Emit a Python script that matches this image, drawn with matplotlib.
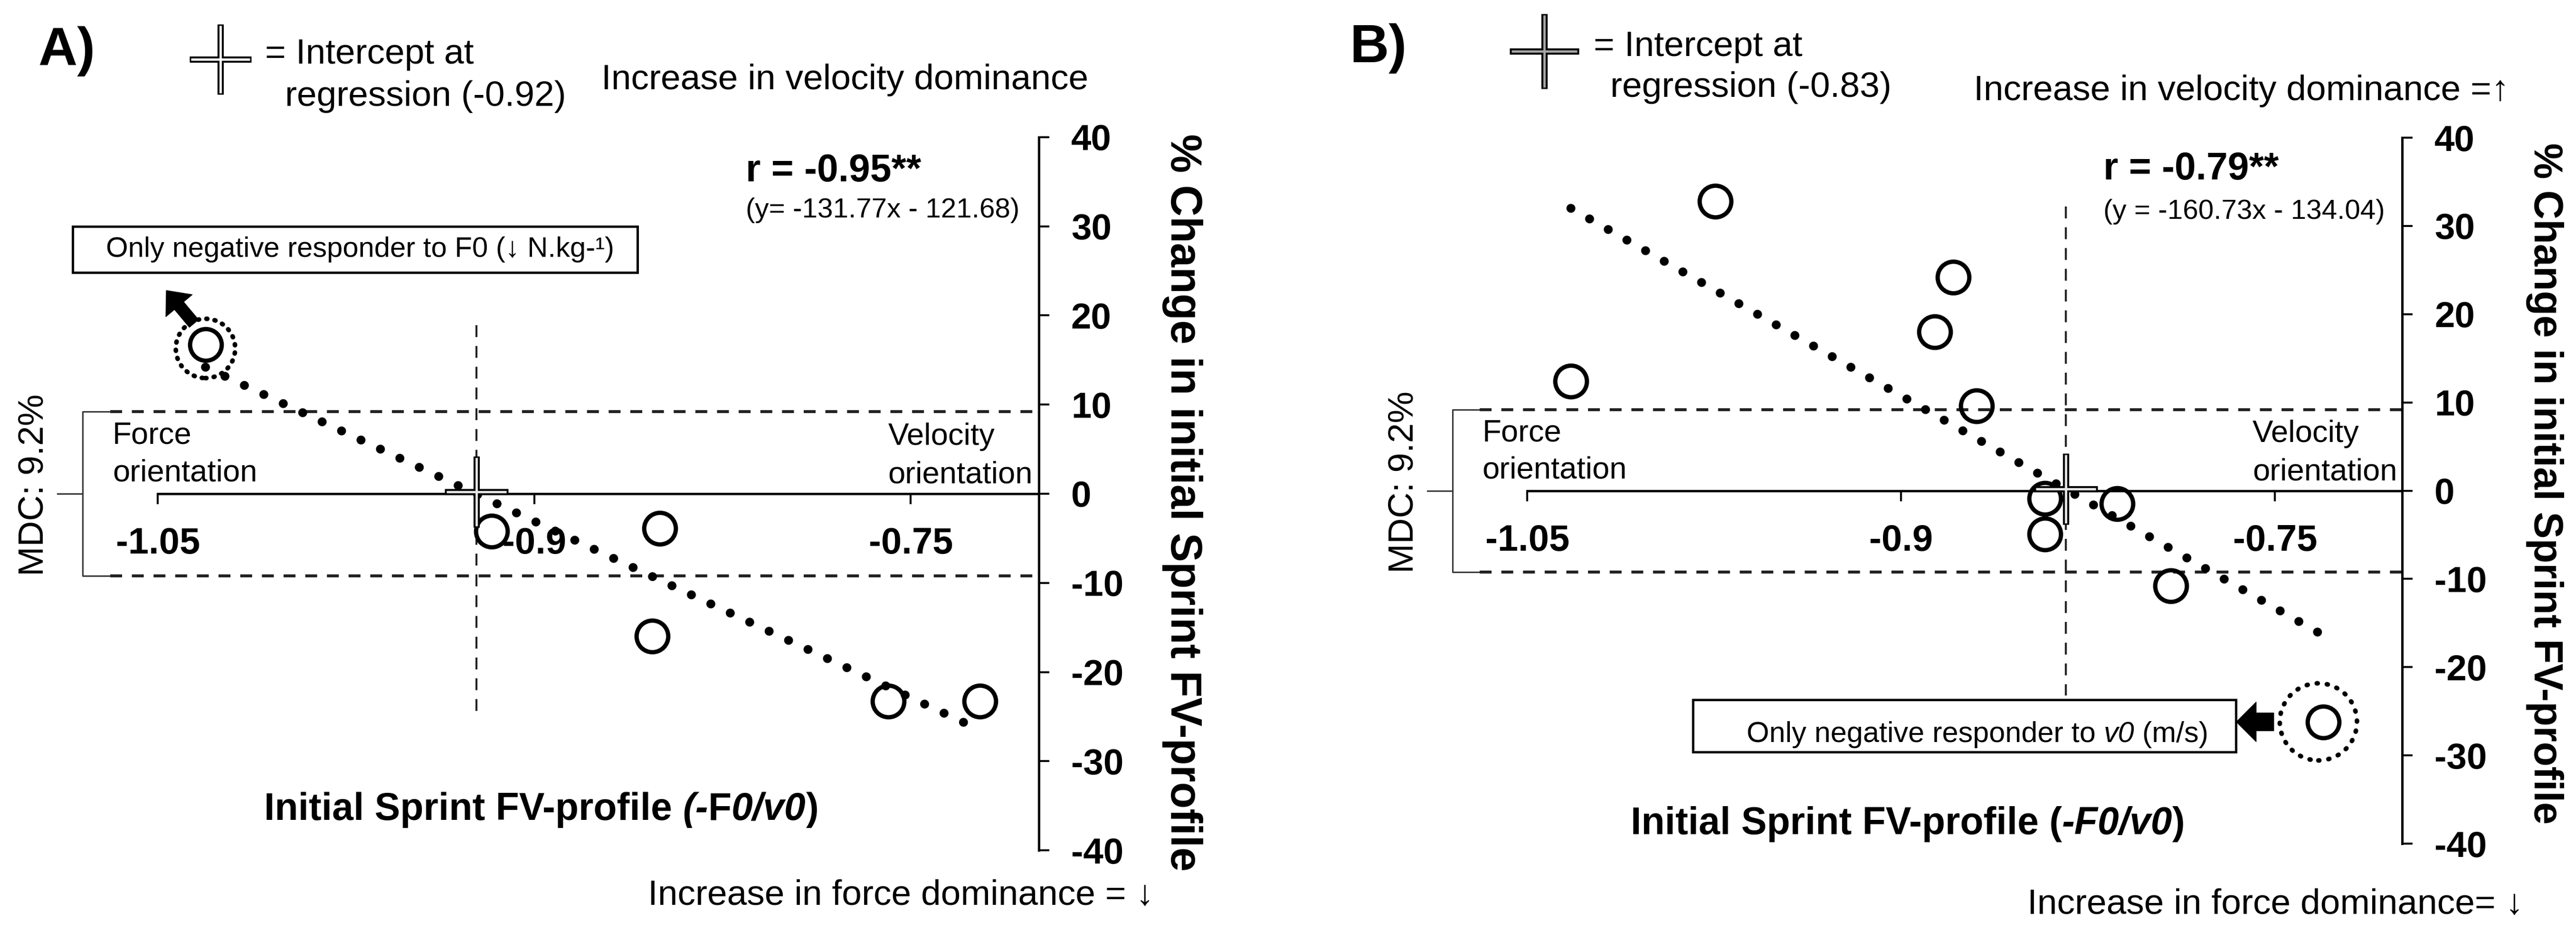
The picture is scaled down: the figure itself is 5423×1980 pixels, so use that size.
import matplotlib
matplotlib.use('Agg')
import matplotlib.pyplot as plt
from matplotlib.patches import Rectangle

plt.rcParams['font.family'] = ['Liberation Sans', 'DejaVu Sans']

# ---- data ----
# panel A
a_x = [-1.031, -0.917, -0.850, -0.853, -0.759, -0.7225]
a_y = [16.7, -4.2, -3.9, -16.0, -23.3, -23.3]
a_fit_x = [-1.031, -0.7225]
a_fit_y = [14.2, -26.5]
a_intercept = -0.923
a_r = 'r = -0.95**'
a_eq = '(y= -131.77x - 121.68)'
a_legend = ['= Intercept at', 'regression (-0.92)']

# panel B
b_x = [-1.0325, -0.9745, -0.8865, -0.879, -0.8697, -0.8423, -0.8423, -0.8133, -0.7918, -0.7306]
b_y = [12.4, 32.8, 18.0, 24.2, 9.6, -0.9, -4.9, -1.5, -10.8, -26.2]
b_fit_x = [-1.0325, -0.7306]
b_fit_y = [32.0, -16.4]
b_intercept = -0.834
b_r = 'r = -0.79**'
b_eq = '(y = -160.73x - 134.04)'
b_legend = ['= Intercept at', 'regression (-0.83)']

mdc = 9.2
xticks = [-1.05, -0.9, -0.75]
xticklabels = ['-1.05', '-0.9', '-0.75']
yticks = [-40, -30, -20, -10, 0, 10, 20, 30, 40]
yticklabels = ['-40', '-30', '-20', '-10', '0', '10', '20', '30', '40']

XMIN, XMAX = -1.10, -0.699


def rich_text(ax, x, y, pieces, **kw):
    ''' put text pieces with different styles one after another '''
    s, style = pieces[0]
    t = ax.text(x, y, s, va='baseline', **style, **kw)
    for s, style in pieces[1:]:
        t = ax.annotate(s, xy=(1, 0), xycoords=t, va='bottom', ha='left',
                        **style, **kw)
    return t


def cross(ax, x, y, w, h, inner, **kw):
    ''' the outlined plus sign used for the regression intercept '''
    ax.plot([x], [y], marker='_', ms=w, mew=9.5, color='black', ls='none', **kw)
    ax.plot([x], [y], marker='|', ms=h, mew=9.5, color='black', ls='none', **kw)
    ax.plot([x], [y], marker='_', ms=w - 5, mew=3.5, color=inner, ls='none', **kw)
    ax.plot([x], [y], marker='|', ms=h - 5, mew=3.5, color=inner, ls='none', **kw)


def panel(ax, x, y, fit_x, fit_y, icpt, vdash, r_txt, eq_txt, r_pos, ylab_size, ylab_y):
    ax.set_xlim(XMIN, XMAX)
    ax.set_ylim(-40, 40)

    for s in ['top', 'left']:
        ax.spines[s].set_visible(False)
    ax.spines['bottom'].set_position(('data', 0))
    ax.spines['bottom'].set_bounds(-1.05, XMAX)
    ax.spines['bottom'].set_linewidth(3.6)
    ax.spines['right'].set_linewidth(3.6)

    ax.yaxis.tick_right()
    ax.set_yticks(yticks)
    ax.set_yticklabels(yticklabels, fontweight='bold')
    ax.tick_params(axis='y', direction='out', length=16, width=3, pad=33, labelsize=55)
    ax.set_xticks(xticks)
    ax.set_xticklabels(xticklabels, fontweight='bold')
    ax.tick_params(axis='x', direction='out', length=16, width=3, pad=34, labelsize=56)

    # MDC band and bracket
    for yy in [mdc, -mdc]:
        ax.plot([-1.069, XMAX], [yy, yy], color='#222222', lw=4.5, ls=(0, (4, 3.3)))
    ax.plot([-1.069, -1.080, -1.080, -1.069], [mdc, mdc, -mdc, -mdc],
            color='#333333', lw=2.2)
    ax.plot([-1.090, -1.080], [0, 0], color='#333333', lw=2.2)
    ax.text(-1.0995, 1, 'MDC: 9.2%', rotation=90, ha='center', va='center', fontsize=54)

    # orientation labels
    ax.text(-1.068, 5.6, 'Force', fontsize=47, va='baseline')
    ax.text(-1.068, 1.4, 'orientation', fontsize=47, va='baseline')
    ax.text(-0.759, 5.5, 'Velocity', fontsize=47, va='baseline')
    ax.text(-0.759, 1.2, 'orientation', fontsize=47, va='baseline')

    # vertical line through the intercept
    ax.plot([icpt, icpt], vdash, color='#222222', lw=3, ls=(0, (6, 4.5)))

    # regression line and data
    ax.plot(fit_x, fit_y, color='black', lw=13.5, ls=(0, (0.01, 2.4)),
            dash_capstyle='round', zorder=3)
    ax.plot(x, y, 'o', ms=48, mfc='none', mec='black', mew=6.5, ls='none', zorder=4)
    cross(ax, icpt, 0.2, 96, 108, '#e6e6e6', zorder=5)

    ax.text(r_pos[0], r_pos[1], r_txt, fontsize=58, fontweight='bold', va='baseline')
    ax.text(r_pos[0], r_pos[2], eq_txt, fontsize=42, va='baseline')

    ax.text(1.1425, ylab_y, '% Change in initial Sprint FV-profile', transform=ax.transAxes,
            rotation=-90, ha='center', va='center', fontsize=ylab_size, fontweight='bold')


fig = plt.figure(figsize=(54.23, 19.80), dpi=100)
axA = fig.add_axes([0.01254, 0.09545, 0.3907, 0.7586])
axB = fig.add_axes([0.5445, 0.1025, 0.3880, 0.7510])

# ---------------- panel A ----------------
panel(axA, a_x, a_y, a_fit_x, a_fit_y, a_intercept, [18.9, -24.9],
      a_r, a_eq, (-0.8157, 35.05, 31.0), 66, 0.488)

axA.scatter([a_x[0]], [a_y[0] - 0.4], s=90**2, facecolors='none', edgecolors='black',
            linewidths=7, linestyles=(0, (0.2, 1.6)), capstyle='round', zorder=4)
axA.annotate('', xy=(a_x[0] - 0.0156, a_y[0] + 6.1), xytext=(a_x[0] - 0.0046, a_y[0] + 2.4),
             arrowprops=dict(arrowstyle='simple,head_length=30,head_width=52,tail_width=18',
                             mutation_scale=1, fc='black', ec='black', shrinkA=0, shrinkB=0))
axA.add_patch(Rectangle((-1.0839, 24.8), 0.225, 5.2, fc='white', ec='black', lw=3.6, zorder=2))
axA.text(-1.0707, 27.4, 'Only negative responder to F0 (\u2193 N.kg-\u00b9)', fontsize=43,
         va='center', zorder=3)

bold = dict(fontsize=58, fontweight='bold')
boldit = dict(fontsize=58, fontweight='bold', style='italic')
rich_text(axA, -1.0076, -36.6, [('Initial Sprint FV-profile ', bold), ('(-', boldit),
                                ('F', bold), ('0/v0', boldit), (')', bold)])

# ---------------- panel B ----------------
panel(axB, b_x, b_y, b_fit_x, b_fit_y, b_intercept, [32.2, -23.2],
      b_r, b_eq, (-0.8189, 35.25, 30.8), 61, 0.51)

axB.scatter([b_x[-1] - 0.002], [b_y[-1]], s=117**2, facecolors='none', edgecolors='black',
            linewidths=7, linestyles=(0, (0.2, 2.0)), capstyle='round', zorder=4)
axB.annotate('', xy=(-0.7655, b_y[-1]), xytext=(-0.7505, b_y[-1]),
             arrowprops=dict(arrowstyle='simple,head_length=30,head_width=60,tail_width=27',
                             mutation_scale=1, fc='black', ec='black', shrinkA=0, shrinkB=0))
axB.add_patch(Rectangle((-0.9836, -29.6), 0.2179, 5.9, fc='white', ec='black', lw=3.6, zorder=2))
reg = dict(fontsize=44)
rich_text(axB, -0.962, -28.5, [('Only negative responder to ', reg),
                               ('v0', dict(fontsize=44, style='italic')), (' (m/s)', reg)],
          zorder=3)
rich_text(axB, -1.0085, -38.9, [('Initial Sprint FV-profile (', bold), ('-F0/v0', boldit),
                                (')', bold)])

# ---------------- headers (figure coordinates) ----------------
fig.text(0.01475, 0.9308, 'A)', fontsize=82, fontweight='bold', va='baseline')
cross(axA, 0.08556, 0.9308 + 0.006, 94, 107, 'white', transform=fig.transFigure, clip_on=False)
fig.text(0.1029, 0.9323, a_legend[0], fontsize=54, va='baseline')
fig.text(0.1106, 0.8874, a_legend[1], fontsize=54, va='baseline')
fig.text(0.2334, 0.9051, 'Increase in velocity dominance', fontsize=54, va='baseline')
fig.text(0.2515, 0.0374, 'Increase in force dominance = \u2193', fontsize=54, va='baseline')

fig.text(0.5240, 0.9340, 'B)', fontsize=82, fontweight='bold', va='baseline')
cross(axB, 0.5995, 0.9455, 105, 114, '#a6a6a6', transform=fig.transFigure, clip_on=False)
fig.text(0.6187, 0.9404, b_legend[0], fontsize=54, va='baseline')
fig.text(0.6251, 0.8970, b_legend[1], fontsize=54, va='baseline')
fig.text(0.7662, 0.8934, 'Increase in velocity dominance =\u2191', fontsize=54, va='baseline')
fig.text(0.7870, 0.0278, 'Increase in force dominance= \u2193', fontsize=54, va='baseline')

fig.savefig('out.png', dpi=100, facecolor='white')
